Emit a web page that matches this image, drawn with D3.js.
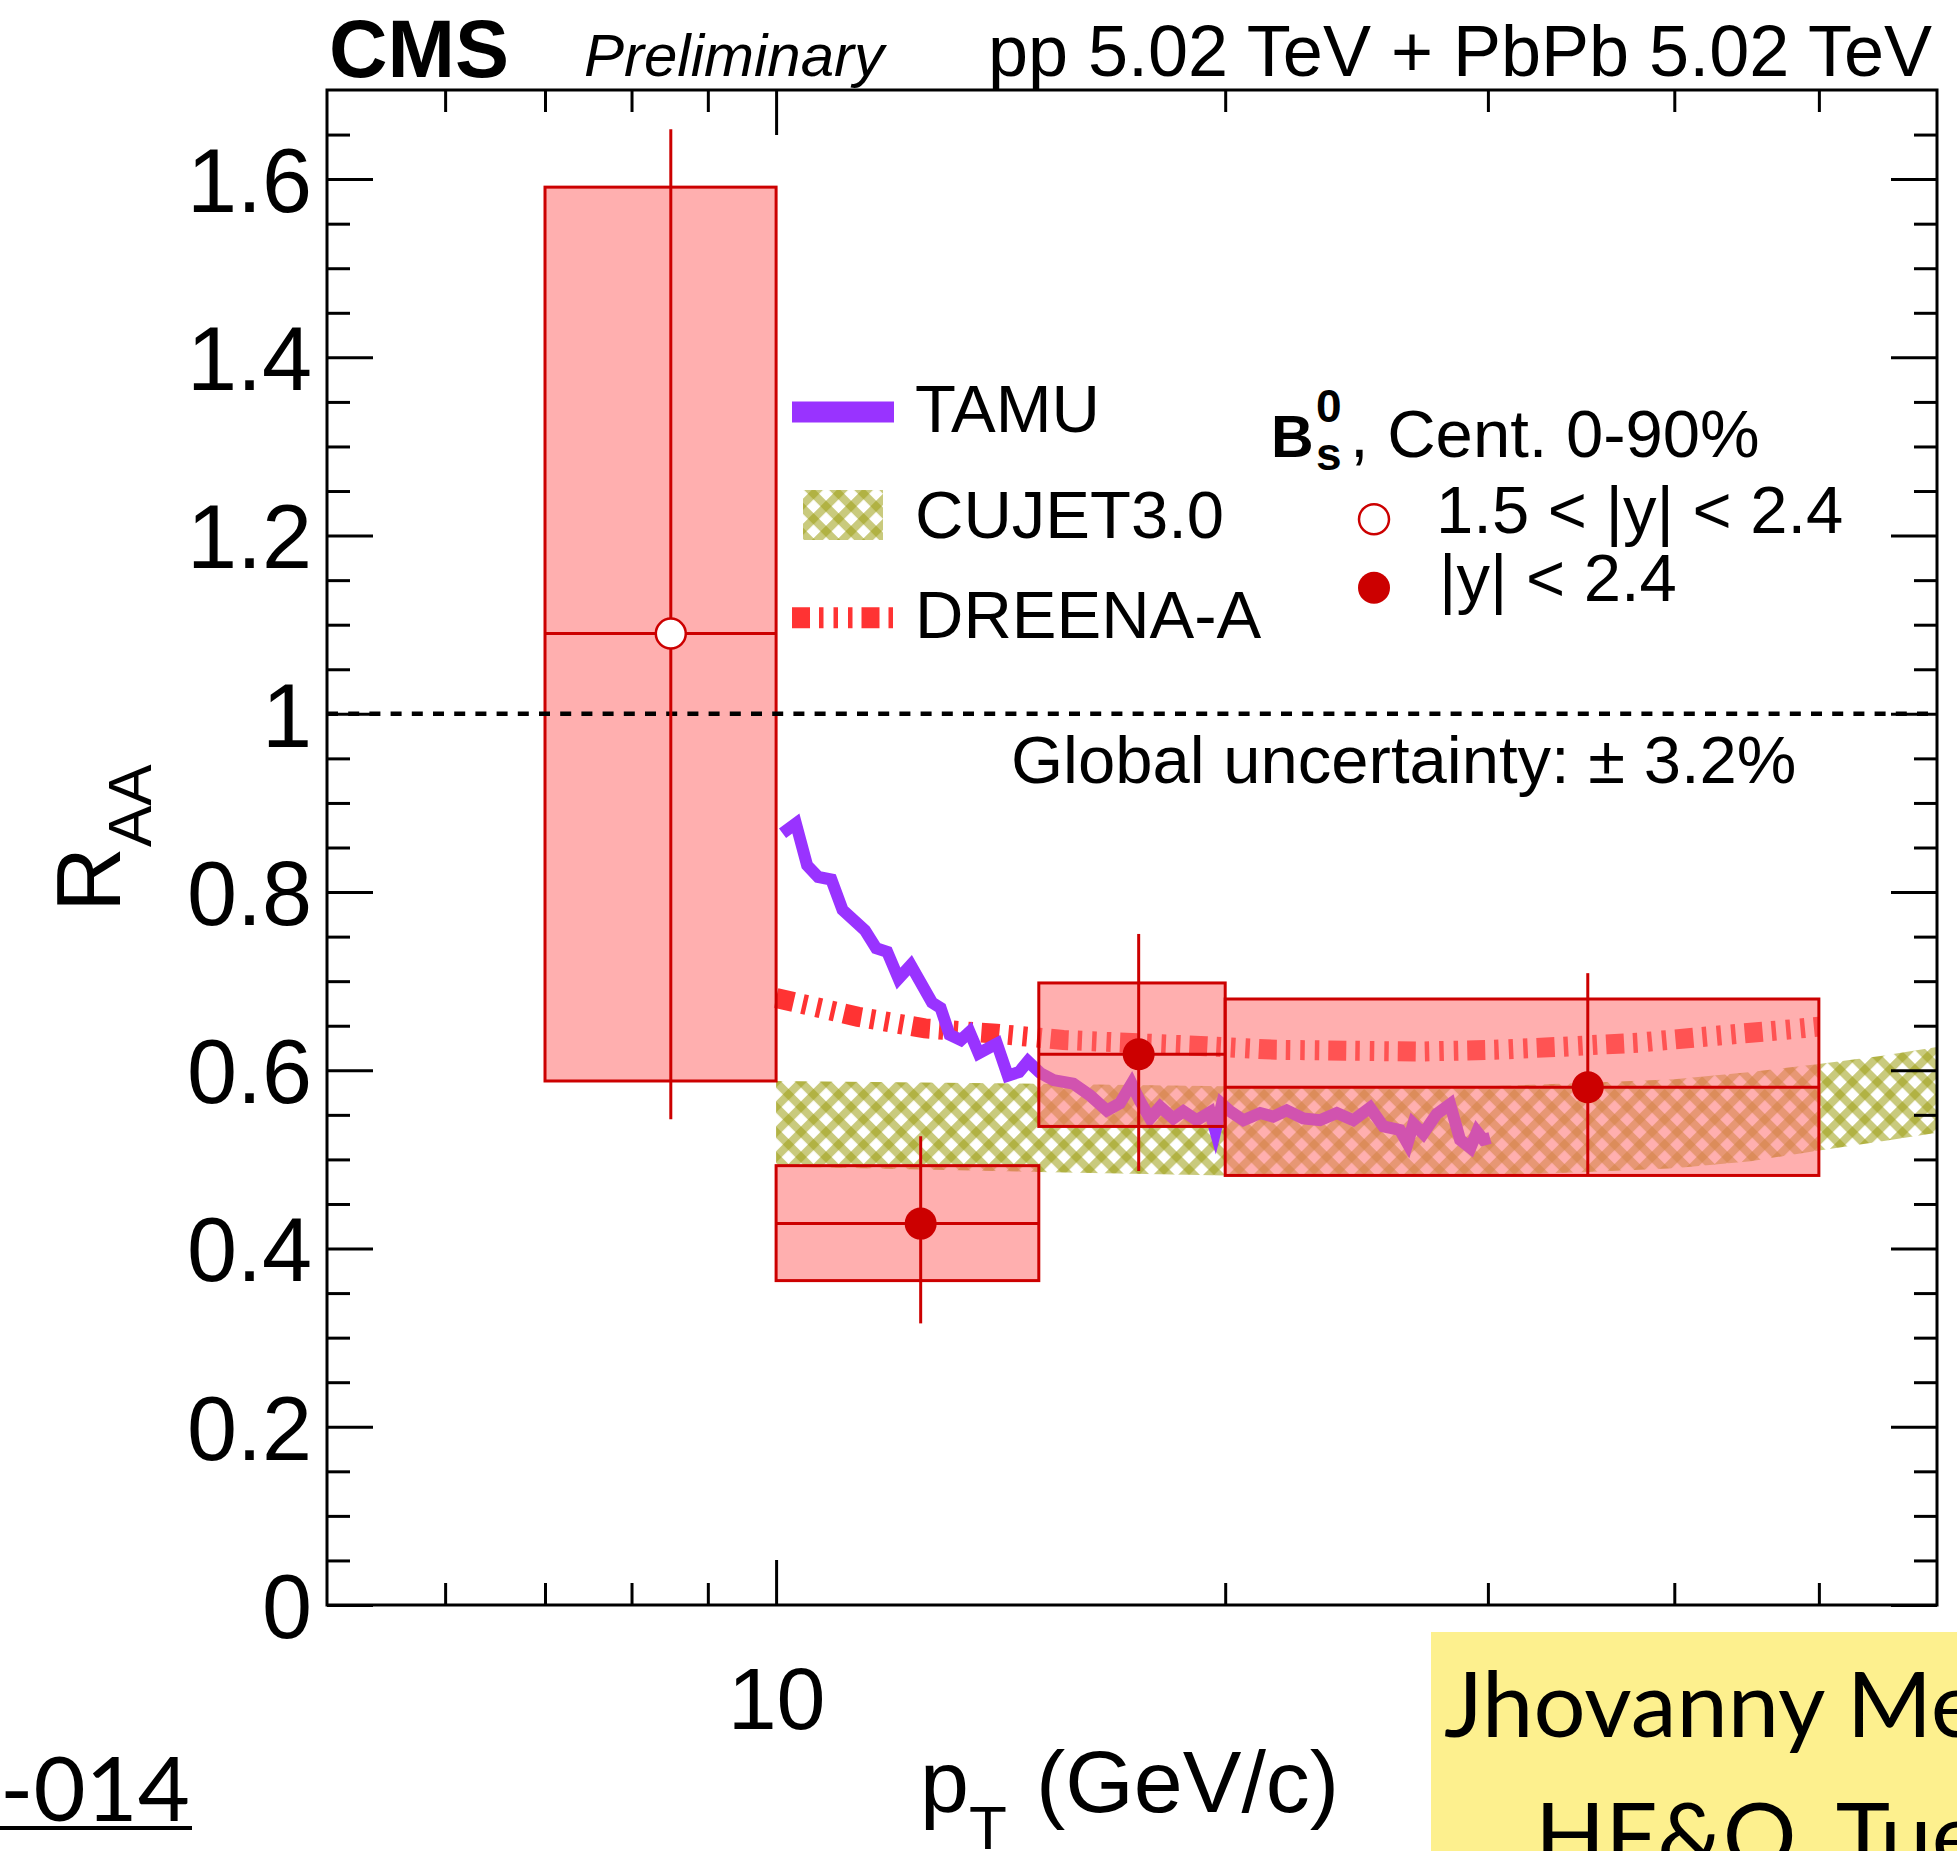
<!DOCTYPE html>
<html>
<head>
<meta charset="utf-8">
<script src="https://cdn.jsdelivr.net/npm/d3@7"></script>
<style>
  html, body { margin: 0; padding: 0; background: #ffffff; }
  svg { display: block; }
</style>
</head>
<body>
<svg id="chart" width="1957" height="1851"></svg>
<script>
// ---- B_s^0 R_AA measurement, one entry per pT bin ----
const binLow    = [7, 10, 15, 20];
const binHigh   = [10, 15, 20, 50];
const ptCenter  = [8.5, 12.5, 17.5, 35];
const raaValue  = [1.09, 0.428, 0.618, 0.581];
const statUp    = [0.566, 0.098, 0.135, 0.128];
const statDown  = [0.545, 0.112, 0.131, 0.099];
const systUp    = [0.501, 0.065, 0.080, 0.099];
const systDown  = [0.502, 0.064, 0.081, 0.099];
// "fwd": 1.5 < |y| < 2.4 (open marker), "all": |y| < 2.4 (filled marker)
const rapidityRange = ["fwd", "all", "all", "all"];

// ---- TAMU model curve ----
const tamuPt  = [10.10, 10.31, 10.49, 10.67, 10.89, 11.08, 11.47, 11.67, 11.87, 12.08,
                 12.31, 12.72, 12.89, 13.07, 13.30, 13.48, 13.67, 14.06, 14.30, 14.55,
                 14.75, 15.03, 15.34, 15.82, 16.23, 16.66, 17.00, 17.31, 17.54, 17.81,
                 18.09, 18.46, 18.75, 19.14, 19.54, 19.70, 19.90, 20.15, 20.57, 21.11,
                 21.54, 21.99, 22.56, 23.15, 23.76, 24.37, 25.01, 25.53, 26.19, 26.50,
                 26.74, 27.15, 27.72, 28.30, 28.74, 29.20, 29.50, 29.79, 30.10];
const tamuRaa = [0.866, 0.877, 0.830, 0.817, 0.814, 0.780, 0.757, 0.737, 0.733, 0.703,
                 0.718, 0.676, 0.670, 0.640, 0.634, 0.643, 0.619, 0.630, 0.594, 0.598,
                 0.610, 0.597, 0.589, 0.585, 0.572, 0.555, 0.563, 0.585, 0.565, 0.546,
                 0.559, 0.546, 0.554, 0.544, 0.553, 0.532, 0.562, 0.554, 0.544, 0.552,
                 0.548, 0.555, 0.546, 0.544, 0.552, 0.544, 0.558, 0.537, 0.533, 0.518,
                 0.540, 0.529, 0.551, 0.562, 0.522, 0.513, 0.531, 0.522, 0.524];

// ---- CUJET3.0 model band ----
const cujetPt   = [10, 15, 20, 25, 30, 35, 40, 45, 50, 55, 60];
const cujetLow  = [0.492, 0.486, 0.482, 0.481, 0.482, 0.486, 0.490, 0.498, 0.510, 0.520, 0.530];
const cujetHigh = [0.588, 0.585, 0.582, 0.581, 0.582, 0.586, 0.590, 0.598, 0.607, 0.616, 0.626];

// ---- DREENA-A model curve ----
const dreenaPt  = [10, 11.35, 12.58, 14.05, 15.58, 19.42, 21.63, 24.14, 26.93, 30.3, 33.7, 37.8, 42.5, 47.9, 50];
const dreenaRaa = [0.681, 0.660, 0.647, 0.641, 0.634, 0.627, 0.623, 0.622, 0.621, 0.623, 0.6265, 0.631, 0.6385, 0.646, 0.649];

// ---- axis ticks ----
const yMajorTicks  = [0, 0.2, 0.4, 0.6, 0.8, 1.0, 1.2, 1.4, 1.6];
const yTickLabels  = ["0", "0.2", "0.4", "0.6", "0.8", "1", "1.2", "1.4", "1.6"];
const yMinorTicks  = [0.05, 0.1, 0.15, 0.25, 0.3, 0.35, 0.45, 0.5, 0.55, 0.65, 0.7, 0.75,
                      0.85, 0.9, 0.95, 1.05, 1.1, 1.15, 1.25, 1.3, 1.35, 1.45, 1.5, 1.55, 1.65];
const xMajorTicks  = [10];
const xTickLabels  = ["10"];
const xMinorTicks  = [6, 7, 8, 9, 20, 30, 40, 50];
const referenceLine = 1;

// ---- layout ----
const frame = { left: 327, right: 1937, top: 90, bottom: 1605 };
const FONT = "'Liberation Sans', Arial, Helvetica, sans-serif";
const COL = {
  tamu: "#9933ff",
  dreena: "#ff3333",
  hatch: "#9c9e12",
  boxFill: "rgba(255,110,110,0.55)",
  data: "#cc0000"
};

const svg = d3.select("#chart");

const x = d3.scaleLog().domain([5, 60]).range([frame.left, frame.right]);
const y = d3.scaleLinear().domain([0, 1.7]).range([frame.bottom, frame.top]);

// cross-hatch fill for the CUJET band
const defs = svg.append("defs");
const HATCH_STEP = 17.7, HATCH_W = 8;
const hatch = defs.append("pattern")
  .attr("id", "cujetHatch")
  .attr("patternUnits", "userSpaceOnUse")
  .attr("width", HATCH_STEP).attr("height", HATCH_STEP)
  .attr("patternTransform", "rotate(45)");
hatch.append("rect").attr("x", 0).attr("y", 0).attr("width", HATCH_STEP).attr("height", HATCH_W)
  .attr("fill", COL.hatch).attr("fill-opacity", 0.55);
hatch.append("rect").attr("x", 0).attr("y", 0).attr("width", HATCH_W).attr("height", HATCH_STEP)
  .attr("fill", COL.hatch).attr("fill-opacity", 0.55);

defs.append("clipPath").attr("id", "plotClip")
  .append("rect")
  .attr("x", frame.left).attr("y", frame.top)
  .attr("width", frame.right - frame.left).attr("height", frame.bottom - frame.top);

const plot = svg.append("g").attr("clip-path", "url(#plotClip)");

// CUJET3.0 band
const cujetData = cujetPt.map((p, i) => ({ pt: p, lo: cujetLow[i], hi: cujetHigh[i] }));
plot.append("path")
  .datum(cujetData)
  .attr("fill", "url(#cujetHatch)")
  .attr("d", d3.area().x(d => x(d.pt)).y0(d => y(d.lo)).y1(d => y(d.hi)));

// DREENA-A
const dreenaData = dreenaPt.map((p, i) => ({ pt: p, v: dreenaRaa[i] }));
const DREENA_DASH = "18 9 4.5 10 4.5 10 4.5 9";
plot.append("path")
  .datum(dreenaData)
  .attr("fill", "none")
  .attr("stroke", COL.dreena)
  .attr("stroke-width", 20)
  .attr("stroke-dasharray", DREENA_DASH)
  .attr("d", d3.line().x(d => x(d.pt)).y(d => y(d.v)));

// TAMU
const tamuData = tamuPt.map((p, i) => ({ pt: p, v: tamuRaa[i] }));
plot.append("path")
  .datum(tamuData)
  .attr("fill", "none")
  .attr("stroke", COL.tamu)
  .attr("stroke-width", 12)
  .attr("stroke-linejoin", "miter")
  .attr("stroke-miterlimit", 6)
  .attr("d", d3.line().x(d => x(d.pt)).y(d => y(d.v)));

// measurement
const points = ptCenter.map((p, i) => ({
  pt: p, lo: binLow[i], hi: binHigh[i], v: raaValue[i],
  su: statUp[i], sd: statDown[i], yu: systUp[i], yd: systDown[i],
  open: rapidityRange[i] === "fwd"
}));

// systematic boxes
plot.selectAll("rect.syst")
  .data(points).enter().append("rect")
  .attr("class", "syst")
  .attr("x", d => x(d.lo))
  .attr("width", d => x(d.hi) - x(d.lo))
  .attr("y", d => y(d.v + d.yu))
  .attr("height", d => y(d.v - d.yd) - y(d.v + d.yu))
  .attr("fill", COL.boxFill)
  .attr("stroke", COL.data)
  .attr("stroke-width", 3);

// R_AA = 1
plot.append("line")
  .attr("x1", frame.left).attr("x2", frame.right)
  .attr("y1", y(referenceLine)).attr("y2", y(referenceLine))
  .attr("stroke", "#000").attr("stroke-width", 4.5)
  .attr("stroke-dasharray", "11 10.2");

// horizontal bin-width bars and statistical error bars
plot.selectAll("line.xerr")
  .data(points).enter().append("line")
  .attr("class", "xerr")
  .attr("x1", d => x(d.lo)).attr("x2", d => x(d.hi))
  .attr("y1", d => y(d.v)).attr("y2", d => y(d.v))
  .attr("stroke", COL.data).attr("stroke-width", 3);
plot.selectAll("line.yerr")
  .data(points).enter().append("line")
  .attr("class", "yerr")
  .attr("x1", d => x(d.pt)).attr("x2", d => x(d.pt))
  .attr("y1", d => y(d.v + d.su)).attr("y2", d => y(d.v - d.sd))
  .attr("stroke", COL.data).attr("stroke-width", 3);
plot.selectAll("circle.marker")
  .data(points).enter().append("circle")
  .attr("class", "marker")
  .attr("cx", d => x(d.pt)).attr("cy", d => y(d.v))
  .attr("r", d => d.open ? 15 : 16)
  .attr("fill", d => d.open ? "#ffffff" : COL.data)
  .attr("stroke", COL.data)
  .attr("stroke-width", d => d.open ? 2.5 : 0);

// ---- axes ----
function styleAxis(g) {
  g.select(".domain").remove();
  g.selectAll(".tick line").attr("stroke", "#000").attr("stroke-width", 3);
  g.selectAll(".tick text").attr("font-family", FONT).attr("fill", "#000");
}
svg.append("g")
  .attr("transform", `translate(0,${frame.bottom})`)
  .call(d3.axisBottom(x).tickValues(xMajorTicks).tickSize(-45).tickPadding(62)
    .tickFormat((d, i) => xTickLabels[i]))
  .call(styleAxis)
  .call(g => g.selectAll(".tick text").attr("font-size", 88).attr("dy", "0.71em"));
svg.append("g")
  .attr("transform", `translate(0,${frame.bottom})`)
  .call(d3.axisBottom(x).tickValues(xMinorTicks).tickSize(-22).tickFormat(""))
  .call(styleAxis);
svg.append("g")
  .attr("transform", `translate(0,${frame.top})`)
  .call(d3.axisTop(x).tickValues(xMajorTicks).tickSize(-45).tickFormat(""))
  .call(styleAxis);
svg.append("g")
  .attr("transform", `translate(0,${frame.top})`)
  .call(d3.axisTop(x).tickValues(xMinorTicks).tickSize(-22).tickFormat(""))
  .call(styleAxis);

svg.append("g")
  .attr("transform", `translate(${frame.left},0)`)
  .call(d3.axisLeft(y).tickValues(yMajorTicks).tickSize(-46).tickPadding(15)
    .tickFormat((d, i) => yTickLabels[i]))
  .call(styleAxis)
  .call(g => g.selectAll(".tick text").attr("font-size", 90).attr("dy", "0.36em"));
svg.append("g")
  .attr("transform", `translate(${frame.left},0)`)
  .call(d3.axisLeft(y).tickValues(yMinorTicks).tickSize(-23).tickFormat(""))
  .call(styleAxis);
svg.append("g")
  .attr("transform", `translate(${frame.right},0)`)
  .call(d3.axisRight(y).tickValues(yMajorTicks).tickSize(-46).tickFormat(""))
  .call(styleAxis);
svg.append("g")
  .attr("transform", `translate(${frame.right},0)`)
  .call(d3.axisRight(y).tickValues(yMinorTicks).tickSize(-23).tickFormat(""))
  .call(styleAxis);

// frame
svg.append("rect")
  .attr("x", frame.left).attr("y", frame.top)
  .attr("width", frame.right - frame.left).attr("height", frame.bottom - frame.top)
  .attr("fill", "none").attr("stroke", "#000").attr("stroke-width", 3);

// axis titles
const yTitle = svg.append("text")
  .attr("transform", "translate(120,912) rotate(-90)")
  .attr("font-family", FONT).attr("font-size", 90).attr("fill", "#000");
yTitle.append("tspan").text("R");
yTitle.append("tspan").attr("font-size", 62).attr("dy", 31).text("AA");

const xTitle = svg.append("text")
  .attr("x", 920).attr("y", 1812)
  .attr("font-family", FONT).attr("font-size", 88).attr("fill", "#000");
xTitle.append("tspan").text("p");
xTitle.append("tspan").attr("font-size", 62).attr("dy", 37).text("T");
xTitle.append("tspan").attr("x", 1036).attr("dy", -37).text("(GeV/c)");

// header
svg.append("text").attr("x", 329).attr("y", 77)
  .attr("font-family", FONT).attr("font-weight", "bold").attr("font-size", 81)
  .text("CMS");
svg.append("text").attr("x", 584).attr("y", 76)
  .attr("font-family", FONT).attr("font-style", "italic").attr("font-size", 60)
  .text("Preliminary");
svg.append("text").attr("x", 1932).attr("y", 76).attr("text-anchor", "end")
  .attr("font-family", FONT).attr("font-size", 72)
  .text("pp 5.02 TeV + PbPb 5.02 TeV");

// ---- legend: models ----
const legendFont = 67;
svg.append("rect").attr("x", 792).attr("y", 401.5).attr("width", 102).attr("height", 21)
  .attr("fill", COL.tamu);
svg.append("rect").attr("x", 803).attr("y", 490).attr("width", 80).attr("height", 50)
  .attr("fill", "url(#cujetHatch)");
svg.append("line").attr("x1", 792).attr("x2", 894).attr("y1", 617.8).attr("y2", 617.8)
  .attr("stroke", COL.dreena).attr("stroke-width", 21).attr("stroke-dasharray", DREENA_DASH);
[["TAMU", 431.7], ["CUJET3.0", 538.3], ["DREENA-A", 637.7]].forEach(([t, yy]) => {
  svg.append("text").attr("x", 915).attr("y", yy)
    .attr("font-family", FONT).attr("font-size", legendFont).text(t);
});

// ---- legend: data ----
const meson = svg.append("text").attr("x", 1271).attr("y", 456.7)
  .attr("font-family", FONT).attr("font-weight", "bold").attr("font-size", 59);
meson.append("tspan").text("B");
meson.append("tspan").attr("font-size", 46).attr("x", 1316).attr("dy", -35).text("0");
meson.append("tspan").attr("font-size", 46).attr("x", 1316).attr("dy", 48.3).text("s");
svg.append("text").attr("x", 1350).attr("y", 456.7)
  .attr("font-family", FONT).attr("font-size", legendFont)
  .text(", Cent. 0-90%");

svg.append("circle").attr("cx", 1374).attr("cy", 519.3).attr("r", 15)
  .attr("fill", "#fff").attr("stroke", COL.data).attr("stroke-width", 2.5);
svg.append("text").attr("x", 1436).attr("y", 533.3)
  .attr("font-family", FONT).attr("font-size", legendFont).text("1.5 < |y| < 2.4");
svg.append("circle").attr("cx", 1374).attr("cy", 587.7).attr("r", 16).attr("fill", COL.data);
svg.append("text").attr("x", 1439).attr("y", 600.7)
  .attr("font-family", FONT).attr("font-size", legendFont).text("|y| < 2.4");

svg.append("text").attr("x", 1011).attr("y", 783)
  .attr("font-family", FONT).attr("font-size", legendFont)
  .text("Global uncertainty: \u00B1 3.2%");

// ---- slide footer ----
const SLIDE_FONT = "Lato, 'Open Sans', sans-serif";
svg.append("text").attr("x", 190).attr("y", 1821).attr("text-anchor", "end")
  .attr("font-family", SLIDE_FONT).attr("font-weight", 400).attr("font-size", 90)
  .text("-014");
svg.append("rect").attr("x", 0).attr("y", 1826).attr("width", 192).attr("height", 4).attr("fill", "#000");

svg.append("rect").attr("x", 1431).attr("y", 1632).attr("width", 526).attr("height", 219)
  .attr("fill", "#fdf08e");
svg.append("text").attr("x", 1444).attr("y", 1737)
  .attr("font-family", SLIDE_FONT).attr("font-weight", 400).attr("font-size", 92)
  .text("Jhovanny Me");
svg.append("text").attr("x", 1535).attr("y", 1868)
  .attr("font-family", SLIDE_FONT).attr("font-weight", 400).attr("font-size", 92)
  .text("HF&Q, Tue");
</script>
</body>
</html>
